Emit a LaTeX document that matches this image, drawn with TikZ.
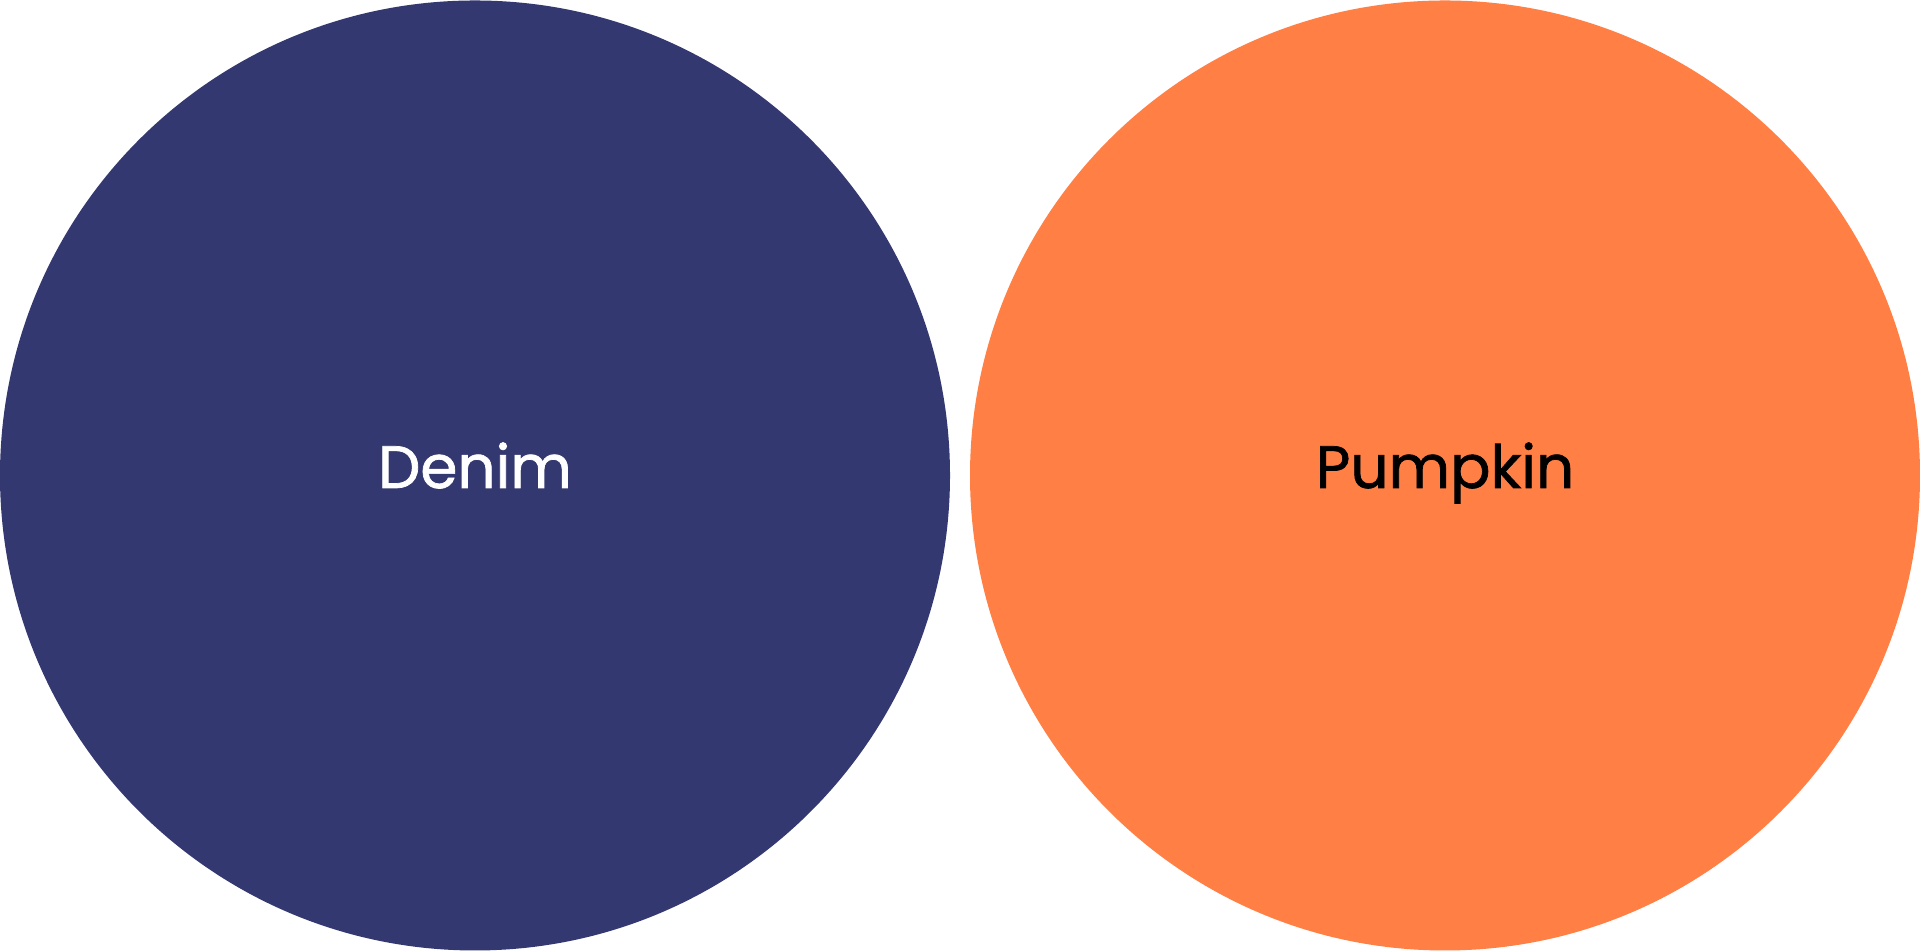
\documentclass[tikz,border=0pt]{standalone}
\usepackage{fontspec}
\setmainfont{Poppins}
\newfontfamily\medfont{Poppins}[FakeBold=1.2]
\definecolor{denim}{HTML}{343870}
\definecolor{pumpkin}{HTML}{FF7F45}
\tikzset{
  blob/.style={draw=none},
  lbl/.style={anchor=base, font=\medfont\fontsize{17}{20}\selectfont}
}
\begin{document}
\begin{tikzpicture}
                \useasboundingbox (0,0) rectangle (19.2,9.51);
                % Circles
                \fill[denim, blob] (4.75,4.755) circle (4.75);
                \fill[pumpkin, blob] (14.45,4.755) circle (4.75);
                % Labels
                \node[lbl, text=white] (denim) at (4.75,4.63) {Denim};
                \node[lbl, text=black] (pumpkin) at (14.45,4.63) {Pumpkin};
            \end{tikzpicture}
\end{document}
